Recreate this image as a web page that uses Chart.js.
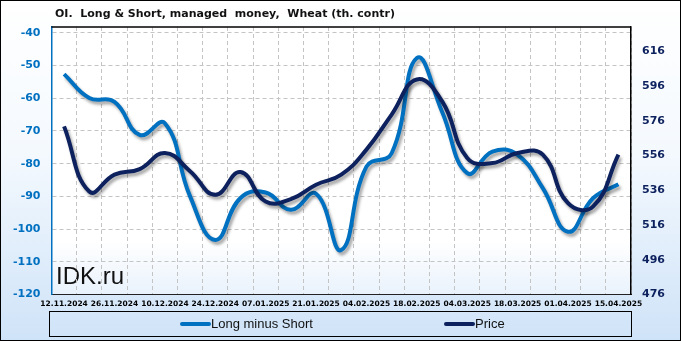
<!DOCTYPE html>
<html>
<head>
<meta charset="utf-8">
<script src="https://cdn.jsdelivr.net/npm/chart.js"></script>
<style>
  html, body { margin: 0; padding: 0; background: #fff; }
</style>
</head>
<body>
<canvas id="chart" width="681" height="341"></canvas>
<script>
// weekly dates (every second one is shown on the axis)
var labels = ['12.11.2024', '19.11.2024', '26.11.2024', '03.12.2024', '10.12.2024', '17.12.2024',
    '24.12.2024', '31.12.2024', '07.01.2025', '14.01.2025', '21.01.2025', '28.01.2025',
    '04.02.2025', '11.02.2025', '18.02.2025', '25.02.2025', '04.03.2025', '11.03.2025',
    '18.03.2025', '25.03.2025', '01.04.2025', '08.04.2025', '15.04.2025'];

var longMinusShort = [-52.6, -59.9, -61.1, -71.2, -67.6, -90, -103.3, -90.5, -88.8, -94.1, -89.2, -106.4,
    -80.9, -76.8, -47.7, -64.1, -82.9, -76.3, -77.3, -87.5, -100.8, -90.5, -86.3];

var price = [572.8, 535.3, 545, 548.2, 557.5, 547, 533.4, 546.5, 529.5, 530.9, 539.2, 545,
    559.4, 579.6, 599.8, 587.3, 554.6, 551.7, 557.5, 556.5, 528.6, 526.7, 556.5];

var leftTicks = [-120, -110, -100, -90, -80, -70, -60, -50, -40];
var rightTicks = [476, 496, 516, 536, 556, 576, 596, 616];

var title = 'OI.  Long & Short, managed  money,  Wheat (th. contr)';

var colorLong = '#0070C0';
var colorPrice = '#0C215E';

// backgrounds, watermark
var backPlugin = {
    id: 'back',
    beforeDraw: function(chart) {
        var ctx = chart.ctx, a = chart.chartArea;
        ctx.save();
        var g = ctx.createLinearGradient(0, 0, 0, chart.height);
        g.addColorStop(0, '#ffffff');
        g.addColorStop(0.45, '#f4f9fe');
        g.addColorStop(1, '#cfe3f8');
        ctx.fillStyle = g;
        ctx.fillRect(0, 0, chart.width, chart.height);

        var g2 = ctx.createLinearGradient(0, a.top, 0, a.bottom);
        g2.addColorStop(0, '#ffffff');
        g2.addColorStop(0.8, '#ffffff');
        g2.addColorStop(1, '#e9f2fc');
        ctx.fillStyle = g2;
        ctx.fillRect(a.left, a.top, a.right - a.left, a.bottom - a.top);

        ctx.fillStyle = '#111';
        ctx.font = '24px "Liberation Sans", Arial, sans-serif';
        ctx.textBaseline = 'alphabetic';
        ctx.fillText('IDK.ru', 56, 284);
        ctx.restore();
    }
};

// soft shadow under the lines
var shadowPlugin = {
    id: 'shadow',
    beforeDatasetDraw: function(chart) {
        var ctx = chart.ctx;
        ctx.save();
        ctx.shadowColor = 'rgba(0,0,0,0.35)';
        ctx.shadowBlur = 3;
        ctx.shadowOffsetX = 2;
        ctx.shadowOffsetY = 3;
    },
    afterDatasetDraw: function(chart) {
        chart.ctx.restore();
    }
};

// title, frame, legend box
var framePlugin = {
    id: 'frame',
    afterDraw: function(chart) {
        var ctx = chart.ctx, a = chart.chartArea;
        ctx.save();
        ctx.fillStyle = '#111';
        ctx.font = 'bold 11px "DejaVu Sans", Verdana, sans-serif';
        ctx.textBaseline = 'alphabetic';
        ctx.fillText(title, 55, 17);

        ctx.strokeStyle = '#000';
        ctx.lineWidth = 1.5;
        ctx.beginPath();
        ctx.moveTo(a.left, a.top);
        ctx.lineTo(a.right, a.top);
        ctx.stroke();

        // legend
        ctx.lineWidth = 1;
        ctx.strokeRect(49.5, 311.5, 582, 25);
        var items = [
            { x: 182, ds: chart.data.datasets[0] },
            { x: 446, ds: chart.data.datasets[1] }
        ];
        ctx.font = '13px "Liberation Sans", Arial, sans-serif';
        ctx.textBaseline = 'middle';
        items.forEach(function(it) {
            ctx.strokeStyle = it.ds.borderColor;
            ctx.lineWidth = 4;
            ctx.lineCap = 'round';
            ctx.beginPath();
            ctx.moveTo(it.x, 324);
            ctx.lineTo(it.x + 27, 324);
            ctx.stroke();
            ctx.fillStyle = '#111';
            ctx.fillText(it.ds.label, it.x + 29, 324.5);
        });

        ctx.strokeStyle = '#000';
        ctx.lineWidth = 1;
        ctx.strokeRect(0.5, 0.5, chart.width - 1, chart.height - 1);
        ctx.restore();
    }
};

var ctx = document.getElementById('chart');

var myChart = new Chart(ctx, {
    type: 'line',
    data: {
        labels: labels,
        datasets: [
            {
                label: 'Long minus Short',
                data: longMinusShort,
                yAxisID: 'y',
                borderColor: colorLong,
                backgroundColor: colorLong,
                borderWidth: 4,
                pointRadius: 0,
                tension: 0.45,
                order: 1
            },
            {
                label: 'Price',
                data: price,
                yAxisID: 'y1',
                borderColor: colorPrice,
                backgroundColor: colorPrice,
                borderWidth: 4,
                pointRadius: 0,
                tension: 0.45,
                order: 0
            }
        ]
    },
    options: {
        responsive: false,
        animation: false,
        layout: { padding: { top: 27, left: 0, right: 0, bottom: 0 } },
        plugins: {
            legend: { display: false },
            title: { display: false },
            tooltip: { enabled: false }
        },
        scales: {
            x: {
                offset: true,
                grid: { offset: true, color: '#c4c4c4', drawTicks: false },
                border: { color: '#222', width: 1, dash: [4, 3] },
                afterFit: function(scale) { scale.height = 46.5; },
                ticks: {
                    autoSkip: false,
                    maxRotation: 0,
                    minRotation: 0,
                    padding: 5,
                    color: '#000',
                    font: { family: '"DejaVu Sans", Verdana, sans-serif', size: 7.5, weight: 'bold' },
                    callback: function(val, i) {
                        return i % 2 === 0 ? this.getLabelForValue(val) : '';
                    }
                }
            },
            y: {
                position: 'left',
                min: -120,
                max: -38.2,
                afterBuildTicks: function(scale) {
                    scale.ticks = leftTicks.map(function(v) { return { value: v }; });
                },
                afterFit: function(scale) { scale.width = 51.5; },
                grid: { color: '#c4c4c4', drawTicks: false },
                border: { color: colorLong, width: 1.5, dash: [4, 3] },
                ticks: {
                    padding: 11,
                    color: colorLong,
                    font: { family: '"DejaVu Sans", Verdana, sans-serif', size: 11, weight: 'bold' }
                }
            },
            y1: {
                position: 'right',
                min: 476,
                max: 630,
                afterBuildTicks: function(scale) {
                    scale.ticks = rightTicks.map(function(v) { return { value: v }; });
                },
                afterFit: function(scale) { scale.width = 50; },
                grid: { drawOnChartArea: false, drawTicks: false },
                border: { color: '#000', width: 1.5 },
                ticks: {
                    padding: 11,
                    color: '#0C215E',
                    font: { family: '"DejaVu Sans", Verdana, sans-serif', size: 11, weight: 'bold' }
                }
            }
        }
    },
    plugins: [backPlugin, shadowPlugin, framePlugin]
});
</script>
</body>
</html>
